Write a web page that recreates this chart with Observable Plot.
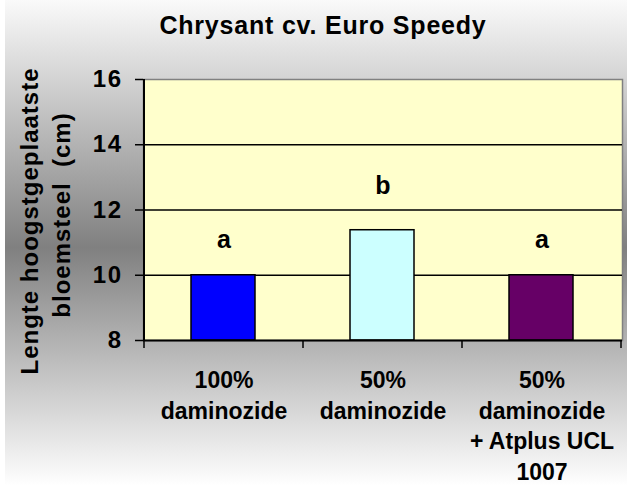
<!DOCTYPE html>
<html>
<head>
<meta charset="utf-8">
<script src="https://cdn.jsdelivr.net/npm/d3@7"></script>
<script src="https://cdn.jsdelivr.net/npm/@observablehq/plot@0.6"></script>
<style>
  html, body { margin: 0; padding: 0; background: #fff; }
  #wrap { position: relative; width: 627px; height: 486px; overflow: hidden; }
  #bg { position: absolute; left: 5px; top: 0; width: 622px; height: 486px;
        background: linear-gradient(to bottom, #fafafa 0%, #808080 51%, #ffffff 100%); }
  #chart { position: absolute; left: 0; top: 0; }
</style>
</head>
<body>
<div id="wrap"><div id="bg"></div><div id="chart"></div></div>
<script>
const title = "Chrysant cv. Euro Speedy";
const yLabelLines = ["Lengte hoogstgeplaatste", "bloemsteel  (cm)"];
const categories = ["100% daminozide", "50% daminozide", "50% daminozide + Atplus UCL 1007"];
const tickLabels = ["100%\ndaminozide", "50%\ndaminozide", "50%\ndaminozide\n+ Atplus UCL\n1007"];
const values = [10.0, 11.38, 10.0];
const letters = ["a", "b", "a"];
const letterY = [10.85, 12.5, 10.85];
const colors = ["#0000FF", "#CCFFFF", "#660066"];
const yTicks = [8, 10, 12, 14, 16];
const gridLines = [10, 12, 14];

const data = categories.map((c, i) => ({
  cat: c, label: tickLabels[i], value: values[i],
  letter: letters[i], ly: letterY[i], color: colors[i]
}));

const font = "'Liberation Sans', Arial, sans-serif";

const chart = Plot.plot({
  width: 627, height: 486,
  marginLeft: 143, marginRight: 5, marginTop: 79, marginBottom: 146,
  style: { background: "transparent", fontFamily: font, fontWeight: "bold", color: "black" },
  x: { domain: categories, padding: 0, axis: null },
  y: { domain: [8, 16] },
  color: { type: "identity" },
  marks: [
    Plot.frame({ fill: "#ffffcc", stroke: "#808080", strokeWidth: 1.5 }),
    Plot.ruleY(gridLines, { stroke: "black", strokeWidth: 1.3 }),
    Plot.barY(data, { x: "cat", y1: 8, y2: "value", fill: "color", stroke: "black", strokeWidth: 1.5, insetLeft: 47, insetRight: 48 }),
    Plot.text(data, { x: "cat", y: "ly", text: "letter", fontSize: 25, lineAnchor: "bottom", fill: "black" }),
    Plot.text(data, { x: "cat", text: "label", frameAnchor: "bottom", lineAnchor: "top", dy: 26, fontSize: 23, lineHeight: 1.33, fill: "black" }),
    Plot.ruleY([8], { stroke: "black", strokeWidth: 2 }),
    Plot.axisY({ ticks: yTicks, tickSize: 8, tickPadding: 13, fontSize: 24, tickFormat: d => String(d), stroke: "black", strokeWidth: 1.5, label: null })
  ]
});

document.getElementById("chart").appendChild(chart);

const svg = d3.select(chart);
const xs = chart.scale("x");
const ys = chart.scale("y");
const y0 = ys.apply(8), y1 = ys.apply(16);
const bw = xs.bandwidth;
const bounds = categories.map(c => xs.apply(c)).concat([xs.apply(categories[categories.length - 1]) + bw]);

// left axis line
svg.append("line").attr("x1", bounds[0]).attr("x2", bounds[0]).attr("y1", y1).attr("y2", y0)
  .attr("stroke", "black").attr("stroke-width", 2);
// category boundary ticks
bounds.forEach(b => {
  svg.append("line").attr("x1", b).attr("x2", b).attr("y1", y0).attr("y2", y0 + 8)
    .attr("stroke", "black").attr("stroke-width", 1.5);
});

svg.selectAll("g[aria-label='y-axis tick label'] text").attr("letter-spacing", 1.5);

// title
svg.append("text").text(title)
  .attr("x", 323).attr("y", 34).attr("text-anchor", "middle")
  .attr("font-family", font).attr("font-weight", "bold").attr("font-size", 25)
  .attr("letter-spacing", 0.8).attr("fill", "black");

// y label (two lines)
const yl = [[38, 221], [70, 215]];
yLabelLines.forEach((t, i) => {
  svg.append("text").text(t)
    .attr("transform", `translate(${yl[i][0]},${yl[i][1]}) rotate(-90)`)
    .attr("text-anchor", "middle")
    .attr("font-family", font).attr("font-weight", "bold").attr("font-size", 24)
    .attr("letter-spacing", 1).attr("fill", "black")
    .style("white-space", "pre");
});
</script>
</body>
</html>
